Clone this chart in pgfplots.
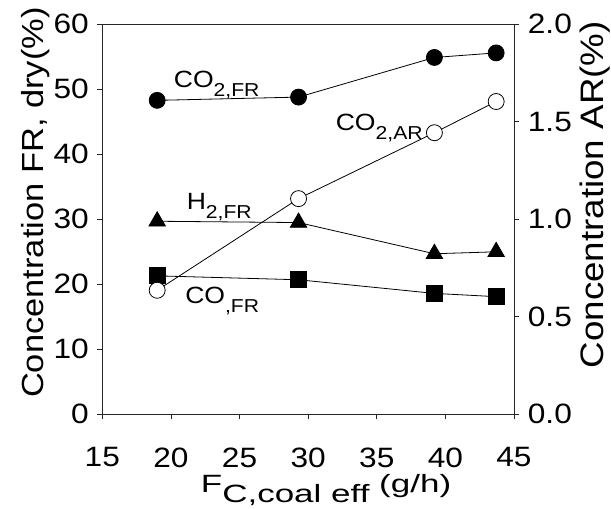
\documentclass[border=0pt]{standalone}
\usepackage{fontspec}
\setmainfont[FakeStretch=1.13]{Liberation Sans}
\newfontfamily\widefont[FakeStretch=1.4]{Liberation Sans}
\usepackage{pgfplots}
\pgfplotsset{compat=1.18}

% font size given in pt, line spacing equal to the size
\newcommand{\px}[1]{\fontsize{#1}{#1}\selectfont}

% measured concentrations
\pgfplotstableread{
x     co2fr  h2fr  cofr  co2ar
19.0  48.3   29.7  21.3  0.636
29.3  48.8   29.5  20.7  1.106
39.2  54.9   24.7  18.6  1.444
43.7  55.6   25.0  18.1  1.604
}\gasdata

\begin{document}
\begin{tikzpicture}
\pgfplotsset{
  twin/.style={
    scale only axis, width=411.7pt, height=390pt,
    xmin=15, xmax=45,
    tick align=outside, major tick length=5pt,
    axis line style={line width=0.8pt, black!85},
    tick style={line width=0.8pt, black!85},
    /pgf/number format/assume math mode=true,
    ticklabel style={font=\px{28}, inner sep=0pt},
    clip=false,
  },
  ser/.style={black, line width=0.8pt},
}
\begin{axis}[twin,
  ymin=0, ymax=60, ytick={0,10,...,60},
  xtick={15,20,...,45},
  xtick pos=bottom, ytick pos=left,
  yticklabel style={anchor=east, xshift=-8.3pt},
  xticklabel style={anchor=north, yshift=-28.2pt},
  xlabel={F\raisebox{-10.5pt}{C,coal eff} (g/h)},
  every axis x label/.style={at={(axis description cs:0.239,-0.2005)}, anchor=base west, font=\widefont\px{25}, inner sep=0pt},
  ylabel={Concentration FR, dry(\%)},
  every axis y label/.style={at={(axis description cs:-0.1423,0.543)}, rotate=90, anchor=base, font=\px{30.5}, inner sep=0pt},
]
\addplot[ser, mark=square*, mark size=8pt, mark options={fill=black}] table[x=x, y=cofr] {\gasdata};
\addplot[ser, mark=triangle*, mark size=9.5pt, mark options={fill=black}] table[x=x, y=h2fr] {\gasdata};
\addplot[ser, mark=*, mark size=8pt, mark options={fill=black}] table[x=x, y=co2fr] {\gasdata};

\node[anchor=base west, inner sep=0pt, font=\px{23.5}] at (axis cs:20.2,50.3) {CO\raisebox{-9pt}{\px{18.7}2,FR}};
\node[anchor=base west, inner sep=0pt, font=\px{23.5}] at (axis cs:32.0,43.7) {CO\raisebox{-9pt}{\px{18.7}2,AR}};
\node[anchor=base west, inner sep=0pt, font=\px{23.5}] at (axis cs:21.14,31.5) {H\raisebox{-9pt}{\px{18.7}2,FR}};
\node[anchor=base west, inner sep=0pt, font=\px{23.5}] at (axis cs:21.03,17.1) {CO\raisebox{-9pt}{\px{18.7},FR}};
\end{axis}

\begin{axis}[twin,
  ymin=0, ymax=2, ytick={0,0.5,...,2},
  axis x line=none, axis y line*=right,
  yticklabel style={anchor=west, xshift=8.7pt,
    /pgf/number format/.cd, fixed, fixed zerofill, precision=1},
  ylabel={Concentration AR(\%)},
  every axis y label/.style={at={(axis description cs:1.2176,0.563)}, rotate=90, anchor=base, font=\px{32.5}, inner sep=0pt},
]
\addplot[ser, mark=*, mark size=8pt, mark options={fill=white}] table[x=x, y=co2ar] {\gasdata};
\end{axis}

\pgfresetboundingbox
\path (-102.3pt,-94.7pt) rectangle (508.7pt,414.3pt);
\end{tikzpicture}
\end{document}
